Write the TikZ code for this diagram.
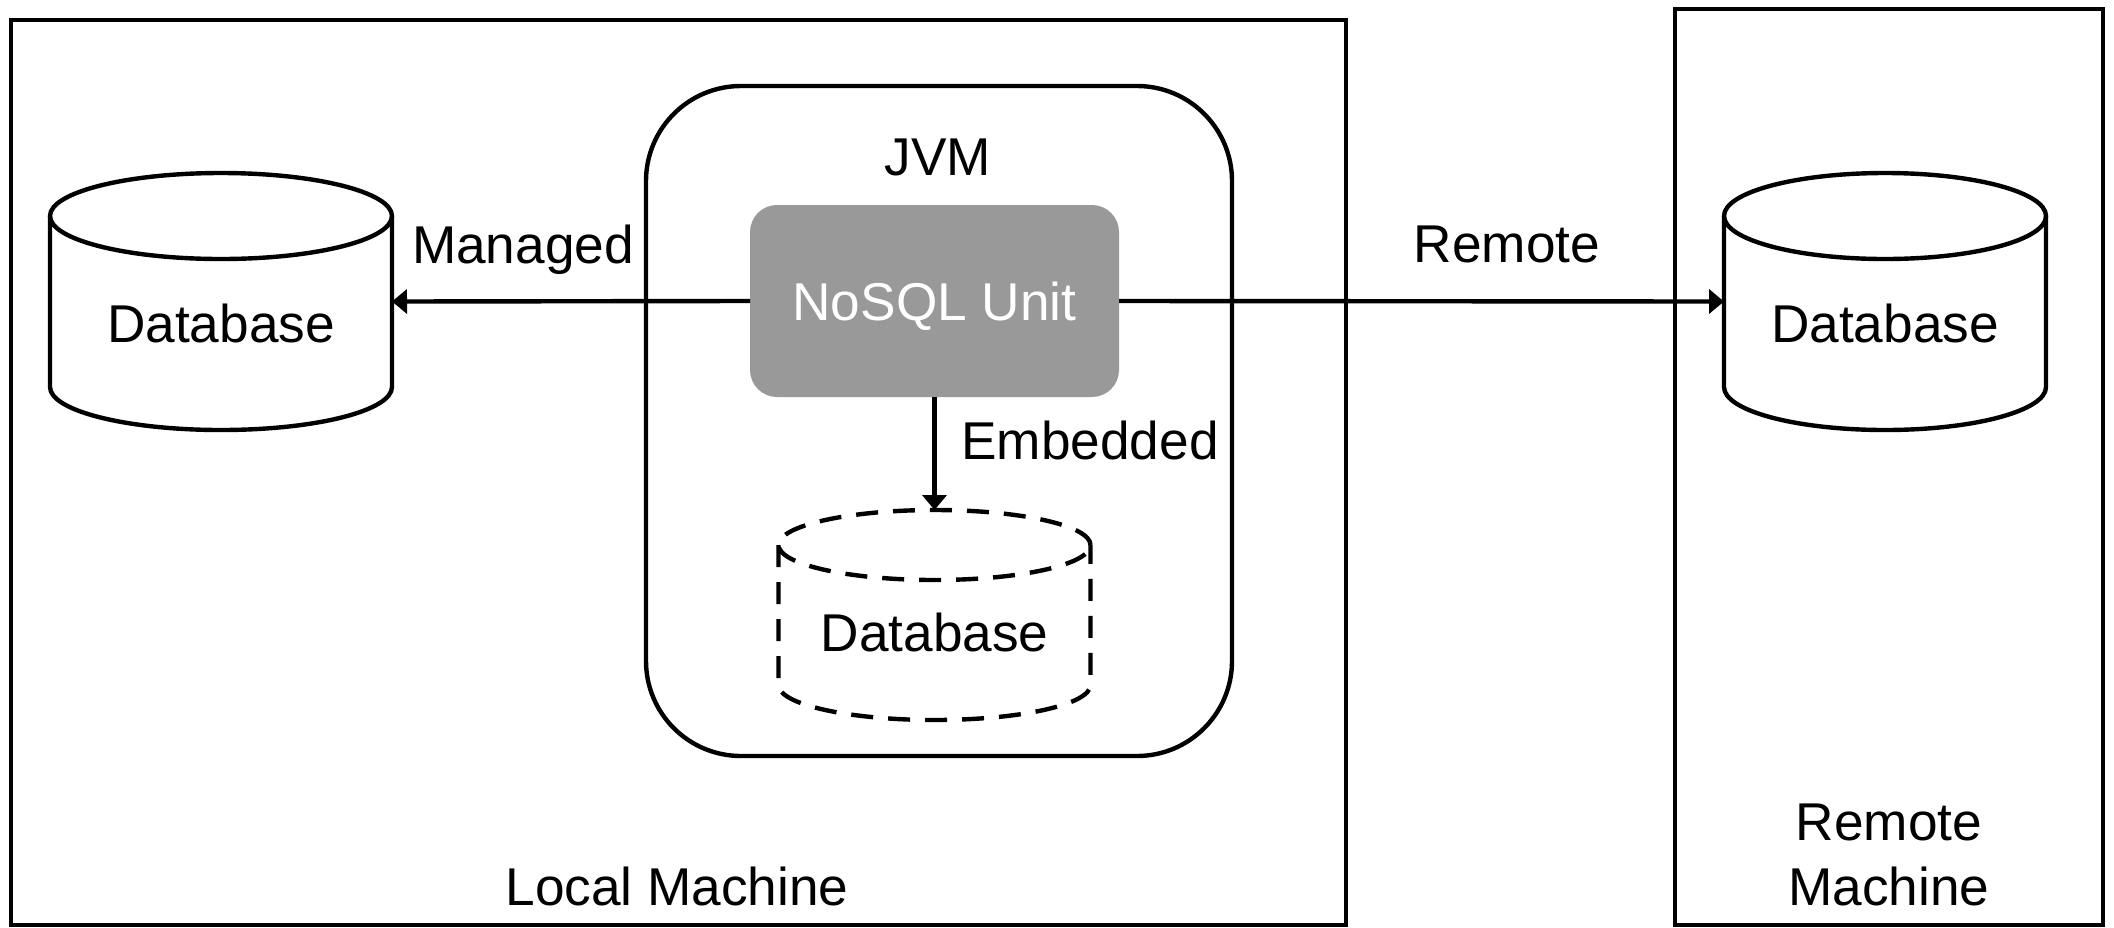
\documentclass[tikz,border=0pt]{standalone}
\usepackage{fontspec}
\setmainfont{Liberation Sans}
\usetikzlibrary{arrows.meta}
\definecolor{nosqlgray}{HTML}{999999}
\newcommand\dbcyl[6]{%
  \draw[#1] (#2,#3) ellipse [x radius=#5*0.5pt, y radius=#6*0.5pt];
  \draw[#1] ({#2-#5},#3) -- ({#2-#5},#4)
     arc[start angle=180,end angle=360,x radius=#5*0.5pt,y radius=#6*0.5pt]
     -- ({#2+#5},#3);}
\begin{document}
\begin{tikzpicture}[x=0.5pt,y=-0.5pt,line width=2.2pt,
  every node/.style={font=\fontsize{26.6pt}{32pt}\selectfont,inner sep=0pt,outer sep=0pt},
  lbl/.style={anchor=base},
  boxframe/.style={draw,rectangle},
  holder/.style={draw=none,rectangle},
  arr/.style={-{Triangle[length=7.5pt,width=12pt]}},
  dashcyl/.style={dash pattern=on 11pt off 7.5pt}]
\useasboundingbox (0,0) rectangle (2114,927);

% machines
\node[boxframe,minimum width=667.5pt,minimum height=452.5pt] (local) at (678.5,472.5) {};
\node[boxframe,minimum width=214pt,minimum height=458pt] (remote) at (1889,467) {};
\node[lbl] (localt) at (677,905) {Local Machine};
\node[lbl] (rm1) at (1889,840) {Remote};
\node[lbl] (rm2) at (1889,905) {Machine};

% JVM
\node[draw,rounded corners=47.5pt,minimum width=293pt,minimum height=335pt] (jvm) at (939,421) {};
\node[lbl] (jvmt) at (938,175) {JVM};

% NoSQL Unit
\node[fill=nosqlgray,rounded corners=13.5pt,minimum width=184.5pt,minimum height=96pt] (nosql) at (934.5,301) {};
\node[lbl,text=white] (nosqlt) at (934.5,320) {NoSQL Unit};

% databases (holders for connections)
\node[holder,minimum width=171pt,minimum height=128.5pt] (dbL) at (221,301.5) {};
\node[holder,minimum width=161pt,minimum height=128.5pt] (dbR) at (1885,301.5) {};
\node[holder,minimum width=156pt,minimum height=105pt] (dbE) at (934.5,615) {};

\dbcyl{}{221}{216}{387}{171}{43}
\dbcyl{}{1885}{216}{387}{161}{43}
\dbcyl{dashcyl}{934.5}{545}{685}{156}{35}

\node[lbl] (dbLt) at (221,342) {Database};
\node[lbl] (dbRt) at (1885,342) {Database};
\node[lbl] (dbEt) at (934.5,651) {Database};

% connectors
\draw[arr] (nosql.west) -- (dbL.east);
\draw[arr] (nosql.east) -- (dbR.west);
\draw[arr] (nosql.south) -- (dbE.north);

\node[lbl] (managed) at (523,263) {Managed};
\node[lbl] (remotel) at (1507,262) {Remote};
\node[lbl] (embedded) at (1090,459) {Embedded};
\end{tikzpicture}
\end{document}
